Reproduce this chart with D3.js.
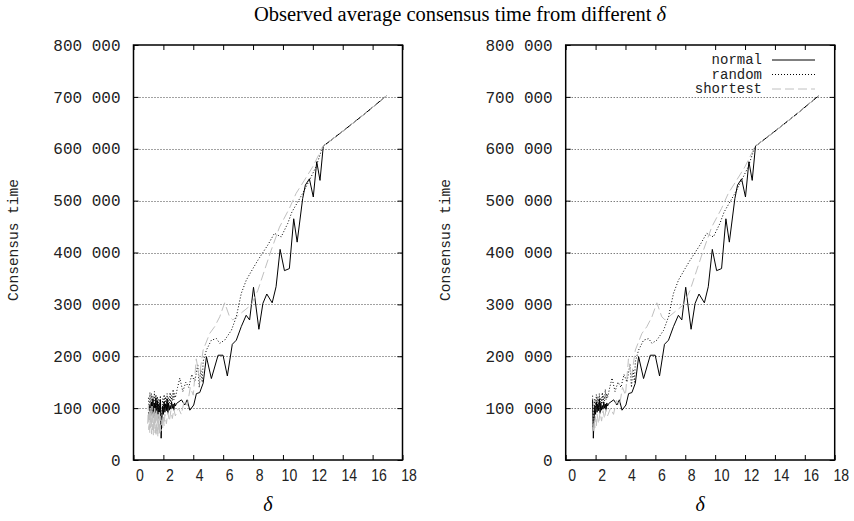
<!DOCTYPE html>
<html>
<head>
<meta charset="utf-8">
<script src="https://cdn.jsdelivr.net/npm/d3@7"></script>
<style>
  body { margin: 0; background: #fff; }
  svg { display: block; }
</style>
</head>
<body>
<div id="chart"></div>
<script>
// consensus time vs delta, three routing strategies
// pairs are [delta, consensus time in thousands]
const normalData = [
  [1.00, 92], [1.05, 78], [1.10, 105], [1.15, 85], [1.20, 112], [1.25, 88], [1.30, 118], [1.35, 82],
  [1.40, 110], [1.45, 90], [1.50, 120], [1.55, 86], [1.60, 114], [1.65, 80], [1.70, 108], [1.75, 92],
  [1.80, 116], [1.85, 42], [1.90, 80], [1.95, 104], [2.00, 88], [2.05, 112], [2.10, 92], [2.15, 108],
  [2.20, 95], [2.25, 118], [2.30, 90], [2.35, 110], [2.40, 96], [2.45, 105], [2.50, 98], [2.55, 112],
  [2.60, 100], [2.65, 108], [2.70, 96], [2.75, 110], [2.80, 104],
  [2.88, 109], [3.21, 116], [3.43, 106], [3.59, 116], [3.77, 96], [4.03, 106], [4.21, 128], [4.43, 130],
  [4.66, 148], [4.88, 199], [5.21, 157], [5.66, 202], [5.99, 202], [6.28, 162], [6.61, 223], [6.88, 231],
  [7.21, 257], [7.54, 279], [7.77, 270], [8.03, 333], [8.39, 252], [8.66, 302], [8.92, 320], [9.28, 303],
  [9.54, 334], [9.81, 406], [10.1, 365], [10.43, 369], [10.72, 465], [10.95, 420], [11.32, 504], [11.5, 530],
  [11.77, 542], [12.03, 507], [12.26, 575], [12.48, 539], [12.7, 605], [14.1, 636], [15.5, 668], [16.92, 702]
];

const randomData = [
  [1.00, 120], [1.05, 98], [1.10, 130], [1.15, 104], [1.20, 128], [1.25, 96], [1.30, 124], [1.35, 100],
  [1.40, 132], [1.45, 98], [1.50, 126], [1.55, 102], [1.60, 122], [1.65, 94], [1.70, 118], [1.75, 100],
  [1.80, 124], [1.85, 62], [1.90, 96], [1.95, 118], [2.00, 100], [2.05, 126], [2.10, 104], [2.15, 122],
  [2.20, 98], [2.25, 128], [2.30, 106], [2.35, 120], [2.40, 110], [2.45, 130], [2.50, 108], [2.55, 124],
  [2.60, 114], [2.65, 136], [2.70, 116], [2.75, 128], [2.80, 120],
  [2.95, 140], [3.1, 158], [3.3, 132], [3.5, 150], [3.7, 140], [3.9, 165], [4.1, 150], [4.3, 185],
  [4.4, 140], [4.5, 175], [4.6, 150], [4.66, 190], [4.88, 212], [5.21, 231], [5.55, 234], [5.77, 225],
  [6.1, 231], [6.55, 250], [6.88, 276], [7.21, 321], [7.55, 347], [7.99, 369], [8.32, 385], [8.66, 400],
  [9.0, 415], [9.43, 437], [9.88, 430], [10.32, 456], [10.6, 478], [11.32, 514], [11.77, 539], [12.21, 565],
  [12.65, 603], [12.7, 605], [14.1, 636], [15.5, 668], [16.92, 702]
];

const shortestData = [
  [0.95, 70], [1.00, 105], [1.03, 58], [1.06, 98], [1.09, 52], [1.12, 100], [1.15, 62], [1.18, 95],
  [1.21, 50], [1.24, 104], [1.27, 58], [1.30, 96], [1.33, 48], [1.36, 92], [1.39, 60], [1.42, 100],
  [1.45, 52], [1.48, 94], [1.51, 46], [1.54, 98], [1.57, 56], [1.60, 90], [1.63, 44], [1.66, 88],
  [1.69, 58], [1.72, 92], [1.75, 48], [1.78, 85], [1.81, 55], [1.85, 56], [1.90, 78], [1.95, 62],
  [2.00, 84], [2.05, 66], [2.10, 88], [2.20, 70], [2.30, 92], [2.40, 75], [2.50, 95], [2.60, 80],
  [2.70, 98], [2.80, 85],
  [3.0, 100], [3.2, 88], [3.4, 115], [3.6, 105], [3.8, 140], [4.0, 125], [4.2, 195], [4.4, 160],
  [4.66, 212], [5.1, 244], [5.43, 257], [5.77, 276], [6.1, 303], [6.43, 276], [6.65, 270], [7.32, 286],
  [7.88, 299], [8.32, 327], [8.77, 366], [9.21, 404], [9.77, 449], [10.43, 485], [10.88, 514], [11.43, 539],
  [11.99, 565], [12.65, 603], [12.7, 605], [14.1, 636], [15.5, 668], [16.92, 702]
];

const seriesNames = ["normal", "random", "shortest"];
const xTicks = [0, 2, 4, 6, 8, 10, 12, 14, 16, 18];
const yTicks = [0, 100000, 200000, 300000, 400000, 500000, 600000, 700000, 800000];
const rightMinDelta = 1.8;

const W = 854, H = 521;
const svg = d3.select("#chart").append("svg")
  .attr("width", W)
  .attr("height", H)
  .style("font-family", "'Liberation Mono', 'DejaVu Sans Mono', monospace");

const styles = {
  normal:   { stroke: "#000", dash: null },
  random:   { stroke: "#000", dash: "1,2" },
  shortest: { stroke: "#c0c0c0", dash: "9,4" }
};

// title
svg.append("text")
  .attr("x", 460)
  .attr("y", 21)
  .attr("text-anchor", "middle")
  .style("font-family", "'Liberation Serif', 'Times New Roman', serif")
  .style("font-size", "20.5px")
  .html("Observed average consensus time from different <tspan font-style='italic'>δ</tspan>");

function drawPanel(left, minDelta, withLegend) {
  const top = 45, bottom = 460, width = 269;
  const x = d3.scaleLinear().domain([0, 18]).range([left, left + width]);
  const y = d3.scaleLinear().domain([0, 800000]).range([bottom, top]);

  const g = svg.append("g");

  // grid
  g.selectAll(".grid")
    .data(yTicks.filter(d => d > 0 && d < 800000))
    .enter().append("line")
    .attr("x1", left).attr("x2", left + width)
    .attr("y1", d => Math.round(y(d)) + 0.5).attr("y2", d => Math.round(y(d)) + 0.5)
    .attr("stroke", "#444")
    .attr("stroke-dasharray", "1,2");

  // series, drawn in gnuplot order so shortest sits on top
  const line = d3.line().x(d => x(d[0])).y(d => y(d[1] * 1000));
  const all = { normal: normalData, random: randomData, shortest: shortestData };
  seriesNames.forEach(name => {
    const pts = all[name].filter(d => d[0] >= minDelta);
    g.append("path")
      .datum(pts)
      .attr("d", line)
      .attr("fill", "none")
      .attr("stroke", styles[name].stroke)
      .attr("stroke-width", 1)
      .attr("stroke-dasharray", styles[name].dash);
  });

  // axes with inward ticks
  const fmt = d => d3.format(",")(d).replace(/,/g, " ");
  const yAx = g.append("g")
    .attr("transform", "translate(" + left + ",0)")
    .call(d3.axisLeft(y).tickValues(yTicks).tickSize(-5).tickPadding(13).tickFormat(fmt));
  yAx.selectAll("text").style("font-size", "16px").style("font-family", "'Liberation Mono', monospace").attr("fill", "#222");

  g.append("g")
    .attr("transform", "translate(" + (left + width) + ",0)")
    .call(d3.axisRight(y).tickValues(yTicks).tickSize(-5).tickFormat(""));

  const xAx = g.append("g")
    .attr("transform", "translate(0," + bottom + ")")
    .call(d3.axisBottom(x).tickValues(xTicks).tickSize(-5).tickPadding(10));
  xAx.selectAll("text")
    .style("font-size", "16px")
    .style("font-family", "'Liberation Sans', 'DejaVu Sans', sans-serif")
    .attr("x", 0)
    .attr("transform", "translate(6,0) scale(0.88,1)")
    .attr("fill", "#222");

  g.append("g")
    .attr("transform", "translate(0," + top + ")")
    .call(d3.axisTop(x).tickValues(xTicks).tickSize(-5).tickFormat(""));

  g.selectAll(".domain").remove();
  g.selectAll(".tick line").attr("stroke", "#000");

  // frame
  g.append("rect")
    .attr("x", left).attr("y", top)
    .attr("width", width).attr("height", bottom - top)
    .attr("fill", "none")
    .attr("stroke", "#000")
    .attr("stroke-width", 1.5);

  // axis titles
  g.append("text")
    .attr("transform", "translate(" + (left - 116) + "," + 240 + ") rotate(-90)")
    .attr("text-anchor", "middle")
    .style("font-size", "14.5px")
    .attr("fill", "#222")
    .text("Consensus time");

  g.append("text")
    .attr("x", left + width / 2)
    .attr("y", 511)
    .attr("text-anchor", "middle")
    .style("font-family", "'Liberation Serif', 'Times New Roman', serif")
    .style("font-style", "italic")
    .style("font-size", "20px")
    .text("δ");

  if (withLegend) {
    const leg = g.append("g");
    seriesNames.forEach((name, i) => {
      const ly = 60 + i * 14.5;
      leg.append("text")
        .attr("x", 762).attr("y", ly + 4)
        .attr("text-anchor", "end")
        .style("font-size", "14px")
        .attr("fill", "#222")
        .text(name);
      leg.append("line")
        .attr("x1", 772).attr("x2", 815)
        .attr("y1", ly).attr("y2", ly)
        .attr("stroke", styles[name].stroke)
        .attr("stroke-dasharray", styles[name].dash);
    });
  }
}

drawPanel(133.5, 0, false);
drawPanel(565.7, rightMinDelta, true);
</script>
</body>
</html>
